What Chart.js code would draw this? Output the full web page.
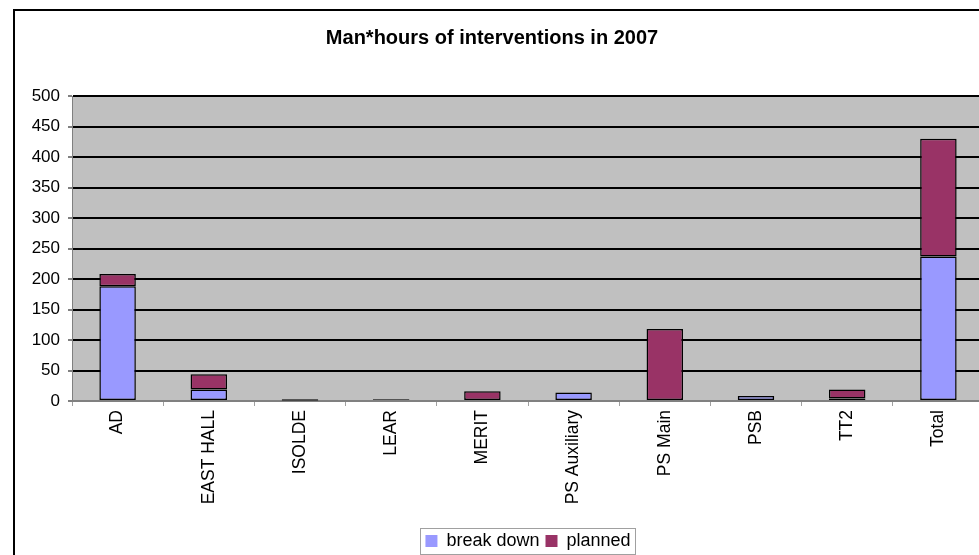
<!DOCTYPE html>
<html>
<head>
<meta charset="utf-8">
<title>Man*hours of interventions in 2007</title>
<script src="https://cdn.jsdelivr.net/npm/chart.js@4.4.1/dist/chart.umd.min.js"></script>
<style>
  html, body { margin: 0; padding: 0; background: #fff; overflow: hidden; }
  #wrap { width: 1000px; height: 555px; }
</style>
</head>
<body>
<div id="wrap"><canvas id="hoursChart" width="1000" height="555"></canvas></div>
<script>
const categories = ["AD", "EAST HALL", "ISOLDE", "LEAR", "MERIT", "PS Auxiliary", "PS Main", "PSB", "TT2", "Total"];
const breakDown = [188, 19, 1, 3, 0, 14, 0, 8, 4, 237];
const planned = [20, 25, 2, 0, 16, 0, 118, 0, 15, 193];
const yMax = 500;
const yStep = 50;

const FONT = "'Liberation Sans', Arial, sans-serif";

// grey plot area, frame round the whole chart, box round the legend
const decor = {
  id: "decor",
  beforeDraw(chart) {
    const { ctx, chartArea: a } = chart;
    ctx.save();
    ctx.fillStyle = "#fff";
    ctx.fillRect(0, 0, chart.width, chart.height);
    ctx.fillStyle = "#c0c0c0";
    ctx.fillRect(a.left, a.top, a.right - a.left, a.bottom - a.top);
    ctx.restore();
  },
  afterDraw(chart) {
    const ctx = chart.ctx;
    ctx.save();
    ctx.strokeStyle = "#000";
    ctx.lineWidth = 2;
    ctx.strokeRect(14, 10, 2000, 2000);

    const boxes = chart.legend.legendHitBoxes;
    if (boxes && boxes.length) {
      const l = Math.min(...boxes.map(b => b.left)) - 5;
      const r = Math.max(...boxes.map(b => b.left + b.width)) + 5;
      const t = Math.min(...boxes.map(b => b.top)) - 4;
      const btm = Math.max(...boxes.map(b => b.top + b.height)) + 4;
      ctx.strokeStyle = "#a0a0a0";
      ctx.lineWidth = 1;
      ctx.strokeRect(Math.round(l) + 0.5, Math.round(t) + 0.5, Math.round(r - l), Math.round(btm - t));
    }
    ctx.restore();
  }
};

new Chart(document.getElementById("hoursChart"), {
  type: "bar",
  data: {
    labels: categories,
    datasets: [
      {
        label: "break down",
        data: breakDown,
        backgroundColor: "#9999ff",
        borderColor: "#000",
        borderWidth: 1.5,
        borderSkipped: false
      },
      {
        label: "planned",
        data: planned,
        backgroundColor: "#993366",
        borderColor: "#000",
        borderWidth: 1.5,
        borderSkipped: false
      }
    ]
  },
  options: {
    responsive: false,
    animation: false,
    categoryPercentage: 1,
    barPercentage: 0.4,
    layout: { padding: { top: 0, right: 16, bottom: -5, left: 0 } },
    plugins: {
      title: {
        display: true,
        text: "Man*hours of interventions in 2007",
        color: "#000",
        font: { family: FONT, size: 20, weight: "bold" },
        padding: { top: 26, bottom: 46 }
      },
      legend: {
        position: "bottom",
        fullSize: false,
        labels: {
          color: "#000",
          font: { family: FONT, size: 18 },
          boxWidth: 12,
          boxHeight: 12,
          padding: 6,
          generateLabels(chart) {
            return Chart.defaults.plugins.legend.labels.generateLabels(chart).map(item => {
              item.lineWidth = 0;
              item.strokeStyle = item.fillStyle;
              return item;
            });
          }
        }
      },
      tooltip: { enabled: false }
    },
    scales: {
      x: {
        stacked: true,
        afterFit(scale) { scale.height = 125; },
        border: { color: "#808080", width: 1 },
        grid: {
          drawOnChartArea: false,
          drawTicks: true,
          tickLength: 5,
          tickColor: "#a0a0a0"
        },
        ticks: {
          color: "#000",
          font: { family: FONT, size: 17.5 },
          minRotation: 90,
          maxRotation: 90,
          padding: 4
        }
      },
      y: {
        stacked: true,
        min: 0,
        max: yMax,
        afterFit(scale) { scale.width = 72; },
        border: { color: "#808080", width: 1 },
        grid: {
          color: ctx => (ctx.tick && ctx.tick.value === 0 ? "#808080" : "#000"),
          lineWidth: 2,
          tickColor: "#808080",
          tickLength: 4
        },
        ticks: {
          stepSize: yStep,
          color: "#000",
          font: { family: FONT, size: 17 },
          padding: 8
        }
      }
    }
  },
  plugins: [decor]
});
</script>
</body>
</html>
